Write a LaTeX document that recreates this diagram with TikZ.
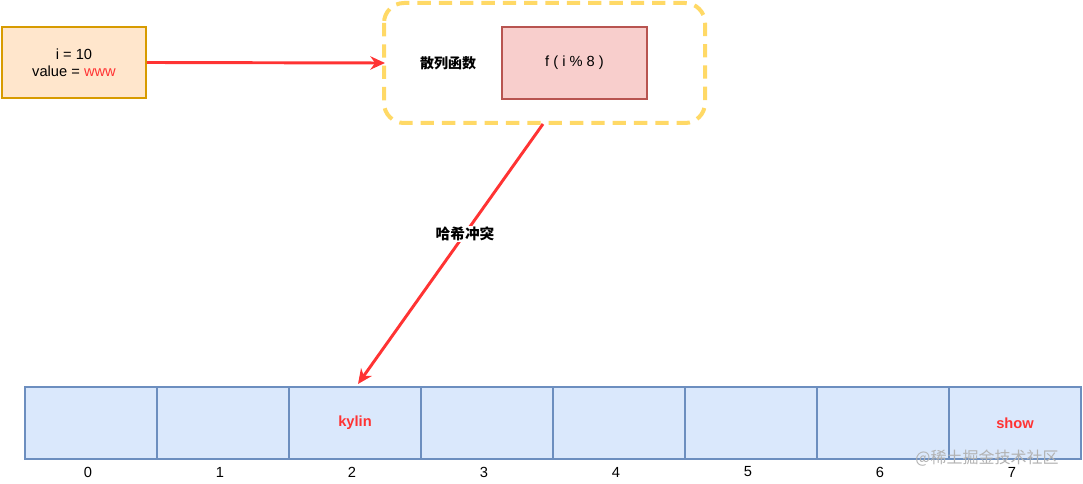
\documentclass[tikz,border=0pt]{standalone}
\usepackage{fontspec}
\setmainfont{Liberation Sans}
\newfontfamily\cjk{Noto Sans CJK SC}
\usetikzlibrary{arrows.meta}
\definecolor{ofill}{HTML}{FFE6CC}\definecolor{oline}{HTML}{D79B00}
\definecolor{pfill}{HTML}{F8CECC}\definecolor{pline}{HTML}{B85450}
\definecolor{bfill}{HTML}{DAE8FC}\definecolor{bline}{HTML}{6C8EBF}
\definecolor{yline}{HTML}{FFD966}\definecolor{redc}{HTML}{FF3333}
\tikzset{
 cell/.style={draw=bline,fill=bfill,line width=1.2pt,minimum width=99pt,minimum height=54pt,inner sep=0pt},
 redarrow/.style={draw=redc,line width=2.2pt,-{Stealth[length=11pt,width=10pt]}},
 lbl/.style={font=\fontsize{11}{13}\selectfont},
}
\begin{document}
\begin{tikzpicture}[x=0.75pt,y=-0.75pt]
\useasboundingbox (0,0) rectangle (1083,484);
\node[draw=oline,fill=ofill,line width=1.2pt,minimum width=108pt,minimum height=53pt,align=center,lbl] (src) at (74,62.5) {i = 10\\value = \textcolor{redc}{www}};
\draw[yline,line width=3pt,dash pattern=on 10pt off 6pt,rounded corners=15pt] (384,3) rectangle (705,123);
\coordinate (boxl) at (385,63);
\coordinate (boxb) at (543,124);
\node[font=\cjk\bfseries\fontsize{10.5}{12}\selectfont] (hl) at (448,63) {散列函数};
\node[draw=pline,fill=pfill,line width=1.2pt,minimum width=109pt,minimum height=54pt,lbl] (f) at (574.5,63) {f ( i \% 8 )};
\draw[redarrow] (src.east) -- (boxl);
\foreach \i in {0,...,7}{
 \node[cell] (c\i) at ({91+132*\i},423) {};
 \node[lbl] (n\i) at ({88+132*\i},472) {\i};
}
\node[font=\bfseries\fontsize{11}{13}\selectfont,text=redc] (k) at (c2) {kylin};
\node[font=\bfseries\fontsize{11}{13}\selectfont,text=redc] (s) at (c7) {show};
\coordinate (tgt) at (358,384);
\draw[redarrow] (boxb) -- (tgt);
\node[font=\cjk\bfseries\fontsize{11}{13}\selectfont,fill=white,inner sep=1pt] (hc) at (465,234) {哈希冲突};
\node[font=\cjk\fontsize{12}{14}\selectfont,text=gray!60] (wm) at (987,458) {@稀土掘金技术社区};
\end{tikzpicture}
\end{document}
